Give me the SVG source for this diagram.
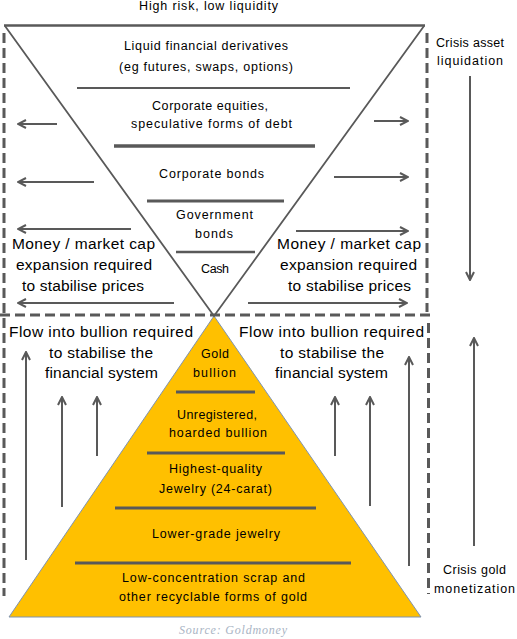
<svg xmlns="http://www.w3.org/2000/svg" width="517" height="639" viewBox="0 0 517 639">
<defs>
<style>
.t{font-family:"Liberation Sans",Arial,sans-serif;font-size:12.5px;fill:#000;text-anchor:middle}
.b{font-family:"Liberation Sans",Arial,sans-serif;font-size:15.5px;fill:#000;text-anchor:middle}
.ln{stroke:#595959;fill:none}
.dash{stroke:#595959;stroke-width:3;stroke-dasharray:10,5;fill:none}
.ar{stroke:#595959;stroke-width:2;fill:none;marker-end:url(#ah)}
.src{font-family:"Liberation Serif","Times New Roman",serif;font-style:italic;font-size:12px;fill:#a9b4c4;text-anchor:middle}
</style>
<marker id="ah" viewBox="0 0 10 10" refX="9" refY="5" markerWidth="10" markerHeight="10" markerUnits="userSpaceOnUse" orient="auto">
<path d="M1,1 L9,5 L1,9" fill="none" stroke="#595959" stroke-width="2"/>
</marker>
</defs>
<rect width="517" height="639" fill="#fff"/>

<g id="frame">
<line class="dash" x1="4" y1="33" x2="4" y2="596"/>
<line class="dash" x1="427" y1="33" x2="427" y2="312"/>
<line class="dash" x1="428.5" y1="323" x2="428.5" y2="594"/>
<line class="dash" x1="0" y1="315" x2="432" y2="315"/>
</g>

<g id="pyramid">
<polygon points="214,316 9,617 421,617" fill="#FFC000" stroke="#7f93b0" stroke-width="1"/>
<line class="ln" stroke-width="3" x1="176" y1="392" x2="255" y2="392"/>
<line class="ln" stroke-width="3" x1="147" y1="453" x2="285" y2="453"/>
<line class="ln" stroke-width="3" x1="115" y1="508" x2="316" y2="508"/>
<line class="ln" stroke-width="3" x1="75" y1="563" x2="351" y2="563"/>
</g>

<g id="inverted-triangle">
<line class="ln" stroke-width="2.5" x1="4" y1="25.5" x2="425" y2="25.5"/>
<polyline class="ln" stroke-width="1.8" points="5,26 214,316 424,26"/>
<line class="ln" stroke-width="2" x1="77" y1="88" x2="350" y2="88"/>
<line class="ln" stroke-width="3.5" x1="114" y1="146" x2="315" y2="146"/>
<line class="ln" stroke-width="3" x1="147" y1="201" x2="284" y2="201"/>
<line class="ln" stroke-width="2.5" x1="176" y1="252" x2="255" y2="252"/>
</g>

<g id="connectors">
<line class="ar" x1="57" y1="124" x2="18" y2="124"/>
<line class="ar" x1="94" y1="182" x2="18" y2="182"/>
<line class="ar" x1="131" y1="229" x2="18" y2="229"/>
<line class="ar" x1="174" y1="303" x2="18" y2="303"/>
<line class="ar" x1="374" y1="121" x2="408" y2="121"/>
<line class="ar" x1="334" y1="177" x2="408" y2="177"/>
<line class="ar" x1="296" y1="231" x2="408" y2="231"/>
<line class="ar" x1="248" y1="303" x2="407" y2="303"/>
<line class="ar" x1="470" y1="76" x2="470" y2="280"/>
<line class="ar" x1="26" y1="560" x2="26" y2="352"/>
<line class="ar" x1="62" y1="507" x2="62" y2="397"/>
<line class="ar" x1="97" y1="456" x2="97" y2="397"/>
<line class="ar" x1="335" y1="456" x2="335" y2="397"/>
<line class="ar" x1="370" y1="506" x2="370" y2="397"/>
<line class="ar" x1="409" y1="566" x2="409" y2="357"/>
<line class="ar" x1="474" y1="546" x2="474" y2="338"/>
</g>

<g id="labels-top">
<text class="t" x="208.5" y="10" textLength="139" lengthAdjust="spacing">High risk, low liquidity</text>
<text class="t" x="206" y="50" textLength="164" lengthAdjust="spacing">Liquid financial derivatives</text>
<text class="t" x="206" y="71" textLength="174" lengthAdjust="spacing">(eg futures, swaps, options)</text>
<text class="t" x="210" y="110" textLength="116" lengthAdjust="spacing">Corporate equities,</text>
<text class="t" x="211.5" y="128" textLength="161" lengthAdjust="spacing">speculative forms of debt</text>
<text class="t" x="211.5" y="178" textLength="105" lengthAdjust="spacing">Corporate bonds</text>
<text class="t" x="214.5" y="219" textLength="77" lengthAdjust="spacing">Government</text>
<text class="t" x="214" y="238" textLength="38" lengthAdjust="spacing">bonds</text>
<text class="t" x="215" y="273" textLength="28" lengthAdjust="spacing">Cash</text>
</g>

<g id="labels-pyramid">
<text class="t" x="215" y="358" textLength="28" lengthAdjust="spacing">Gold</text>
<text class="t" x="214.5" y="377" textLength="43" lengthAdjust="spacing">bullion</text>
<text class="t" x="217" y="419" textLength="80" lengthAdjust="spacing">Unregistered,</text>
<text class="t" x="218" y="437" textLength="98" lengthAdjust="spacing">hoarded bullion</text>
<text class="t" x="215.5" y="473" textLength="93" lengthAdjust="spacing">Highest-quality</text>
<text class="t" x="215.5" y="493" textLength="113" lengthAdjust="spacing">Jewelry (24-carat)</text>
<text class="t" x="216" y="538" textLength="128" lengthAdjust="spacing">Lower-grade jewelry</text>
<text class="t" x="213.5" y="582" textLength="183" lengthAdjust="spacing">Low-concentration scrap and</text>
<text class="t" x="213" y="601" textLength="188" lengthAdjust="spacing">other recyclable forms of gold</text>
</g>

<g id="money-left">
<text class="b" x="83.5" y="249" textLength="143" lengthAdjust="spacing">Money / market cap</text>
<text class="b" x="84" y="270" textLength="136" lengthAdjust="spacing">expansion required</text>
<text class="b" x="83" y="291" textLength="122" lengthAdjust="spacing">to stabilise prices</text>
</g>
<g id="money-right">
<text class="b" x="349" y="249" textLength="144" lengthAdjust="spacing">Money / market cap</text>
<text class="b" x="348.5" y="270" textLength="137" lengthAdjust="spacing">expansion required</text>
<text class="b" x="349.5" y="291" textLength="123" lengthAdjust="spacing">to stabilise prices</text>
</g>
<g id="flow-left">
<text class="b" x="101" y="337" textLength="184" lengthAdjust="spacing">Flow into bullion required</text>
<text class="b" x="101" y="358" textLength="104" lengthAdjust="spacing">to stabilise the</text>
<text class="b" x="101.5" y="378" textLength="113" lengthAdjust="spacing">financial system</text>
</g>
<g id="flow-right">
<text class="b" x="331.5" y="337" textLength="185" lengthAdjust="spacing">Flow into bullion required</text>
<text class="b" x="332" y="358" textLength="104" lengthAdjust="spacing">to stabilise the</text>
<text class="b" x="331.5" y="378" textLength="113" lengthAdjust="spacing">financial system</text>
</g>
<g id="crisis-asset">
<text class="t" x="470" y="47" textLength="68" lengthAdjust="spacing">Crisis asset</text>
<text class="t" x="470" y="65" textLength="66" lengthAdjust="spacing">liquidation</text>
</g>
<g id="crisis-gold">
<text class="t" x="474.5" y="574" textLength="63" lengthAdjust="spacing">Crisis gold</text>
<text class="t" x="474.5" y="593" textLength="81" lengthAdjust="spacing">monetization</text>
</g>
<g id="source">
<text class="src" x="233" y="634" textLength="108" lengthAdjust="spacing">Source: Goldmoney</text>
</g>
</svg>
